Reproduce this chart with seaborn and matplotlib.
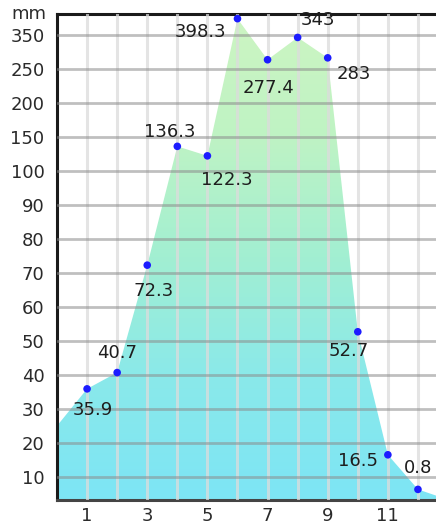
import numpy as np
import pandas as pd
import seaborn as sns
import matplotlib.pyplot as plt
from matplotlib.colors import LinearSegmentedColormap

# monthly rainfall (mm)
months = [1, 2, 3, 4, 5, 6, 7, 8, 9, 10, 11, 12]
rain = [35.9, 40.7, 72.3, 136.3, 122.3, 398.3, 277.4, 343, 283, 52.7, 16.5, 0.8]
labels = ['35.9', '40.7', '72.3', '136.3', '122.3', '398.3', '277.4', '343', '283', '52.7', '16.5', '0.8']

# where the filled area meets the left / right edge
edge_months = [0, 12.6]
edge_rain = [25, -1.5]

y_ticks = [10, 20, 30, 40, 50, 60, 70, 80, 90, 100, 150, 200, 250, 350]
y_ticklabels = ['10', '20', '30', '40', '50', '60', '70', '80', '90', '100', '150', '200', '250', '350']
x_ticklabels = ['1', '', '3', '', '5', '', '7', '', '9', '', '11', '']

# the axis is not linear: every labelled tick gets the same spacing
knot_vals = [-10, 0] + y_ticks + [450]
knot_pos = [-0.4, 0.6] + list(range(1, len(y_ticks) + 1)) + [len(y_ticks) + 1]

def fwd(v):
    return np.interp(v, knot_vals, knot_pos)

def inv(p):
    return np.interp(p, knot_pos, knot_vals)

df = pd.DataFrame({'month': months, 'rain': rain})

sns.set_style('white')
fig = plt.figure(figsize=(4.36, 5.26), dpi=100)
ax = fig.add_axes([57 / 436, 26 / 526, 1 - 57 / 436, (500 - 14) / 526])
ax.set_yscale('function', functions=(fwd, inv))
ax.set_xlim(0, 12.6)
ax.set_ylim(-2.8, 412)

# area under the line, with a green -> cyan gradient
xs = [edge_months[0]] + months + [edge_months[1]]
ys = [edge_rain[0]] + rain + [edge_rain[1]]
poly = ax.fill_between(xs, ys, -2.8, color='none', lw=0, zorder=1)
cmap = LinearSegmentedColormap.from_list('g', ['#7de5f5', '#8ae9ea', '#a2efd2', '#bff3c4', '#cdf5c2'])
grad = np.linspace(0, 1, 256).reshape(-1, 1)
img = ax.imshow(grad, cmap=cmap, origin='lower', extent=[0, 1, 0, 1],
                transform=ax.transAxes, aspect='auto', zorder=1)
img.set_clip_path(poly.get_paths()[0], transform=ax.transData)

# grid on top of the fill
ax.set_xticks(months)
ax.set_xticklabels(x_ticklabels)
ax.set_yticks(y_ticks)
ax.set_yticklabels(y_ticklabels)
ax.minorticks_off()
ax.set_axisbelow(False)
ax.xaxis.grid(True, color='#dcdcdc', lw=2.2, alpha=0.75, zorder=2)
ax.yaxis.grid(True, color='#8c8c8c', lw=2.0, alpha=0.55, zorder=2)
ax.tick_params(length=0, labelsize=13, colors='#2a2a2a')
ax.tick_params(axis='y', pad=9)
ax.tick_params(axis='x', pad=5)

sns.scatterplot(data=df, x='month', y='rain', ax=ax, color='#1c1cff',
                s=30, edgecolor='none', zorder=5, clip_on=False)
ax.set_xlabel('')
ax.set_ylabel('')

offsets = [(6, -21), (0, 20), (6, -26), (-8, 14), (19, -24), (-37, -13),
           (1, -28), (20, 17), (26, -16), (-9, -19), (-30, -6), (0, 21)]
for m, r, t, off in zip(months, rain, labels, offsets):
    ax.annotate(t, (m, r), xytext=off, textcoords='offset pixels',
                ha='center', va='center', fontsize=13, color='#1e1e1e',
                annotation_clip=False, zorder=6)

for side in ['left', 'top']:
    ax.spines[side].set_color('#1a1a1a')
    ax.spines[side].set_linewidth(2.2)
ax.spines['bottom'].set_color('#444444')
ax.spines['bottom'].set_linewidth(2.2)
ax.spines['right'].set_visible(False)

fig.text(29 / 436, 1 - 14 / 526, 'mm', ha='center', va='center',
         fontsize=13, color='#2a2a2a')

fig.savefig('out.png', dpi=100)
